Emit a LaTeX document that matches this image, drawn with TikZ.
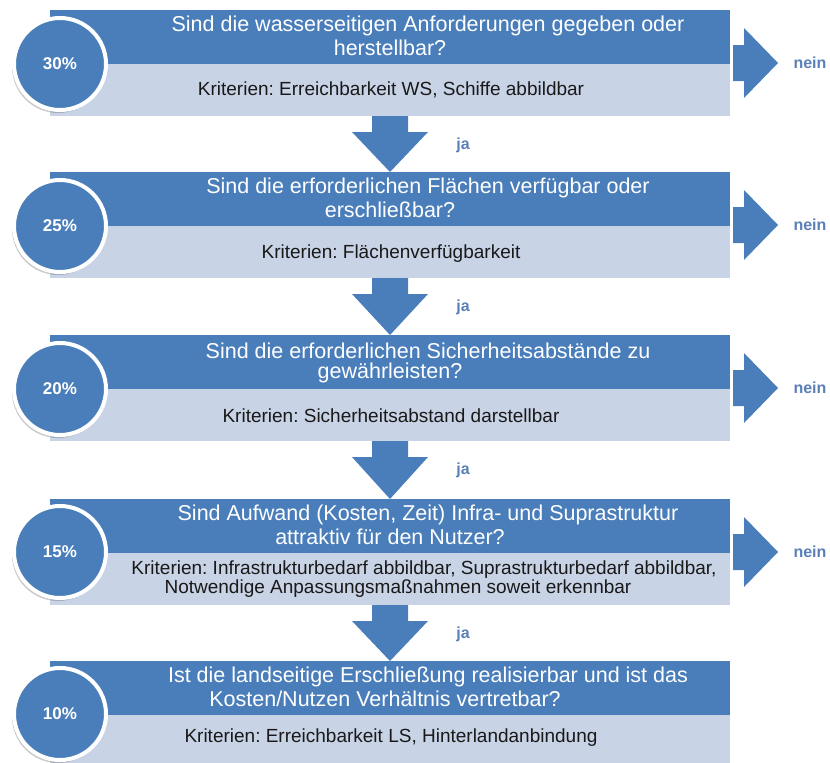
\documentclass[tikz,border=0pt]{standalone}
\usepackage{fontspec}
\setmainfont{Liberation Sans}
\usetikzlibrary{calc,shadows}
\definecolor{dblue}{HTML}{4A7EBB}
\definecolor{lblue}{HTML}{C9D3E6}
\definecolor{lbl}{HTML}{5B80B8}
\frenchspacing
\begin{document}
\begin{tikzpicture}[x=1pt,y=-1pt,
  dark/.style={fill=dblue, minimum width=680pt, minimum height=54pt, anchor=north west, inner sep=0pt, outer sep=0pt},
  light/.style={fill=lblue, minimum width=680pt, minimum height=52pt, anchor=north west, inner sep=0pt, outer sep=0pt},
  title/.style={text=white, font=\fontsize{21.5}{24}\selectfont, inner sep=0pt},
  krit/.style={text=black!90, font=\fontsize{19}{22}\selectfont, inner sep=0pt},
  pct/.style={circle, fill=dblue, draw=white, line width=4pt, minimum size=92pt, text=white,
    font=\bfseries\fontsize{17}{20}\selectfont,
    drop shadow={shadow xshift=-2pt, shadow yshift=-3pt, fill=black!60, opacity=0.35}},
  lab/.style={text=lbl, font=\bfseries\fontsize{16}{18}\selectfont, inner sep=0pt},
  arr/.style={fill=dblue}
]
\useasboundingbox (0,0) rectangle (830,763);

% ---- blocks ----
\node[dark]  (d1) at (50,10) {};
\node[light] (l1) at (50,64) {};
\node[dark]  (d2) at (50,172) {};
\node[light] (l2) at (50,226) {};
\node[dark]  (d3) at (50,335) {};
\node[light] (l3) at (50,389) {};
\node[dark]  (d4) at (50,499) {};
\node[light] (l4) at (50,553) {};
\node[dark]  (d5) at (50,661) {};
\node[light, minimum height=48pt] (l5) at (50,715) {};

% ---- texts ----
\node[title] (t1a) at (428,26) {Sind die wasserseitigen Anforderungen gegeben oder};
\node[title] (t1b) at (390,48) {herstellbar?};
\node[krit]  (k1)  at (391,90) {Kriterien: Erreichbarkeit WS, Schiffe abbildbar};

\node[title] (t2a) at (428,188) {Sind die erforderlichen Flächen verfügbar oder};
\node[title] (t2b) at (390,210) {erschließbar?};
\node[krit]  (k2)  at (391,254) {Kriterien: Flächenverfügbarkeit};

\node[title] (t3a) at (428,351) {Sind die erforderlichen Sicherheitsabstände zu};
\node[title] (t3b) at (390,373) {gewährleisten?};
\node[krit]  (k3)  at (391,416) {Kriterien: Sicherheitsabstand darstellbar};

\node[title] (t4a) at (428,515) {Sind Aufwand (Kosten, Zeit) Infra- und Suprastruktur};
\node[title] (t4b) at (390,537) {attraktiv für den Nutzer?};
\node[krit]  (k4a) at (424,570) {Kriterien: Infrastrukturbedarf abbildbar, Suprastrukturbedarf abbildbar,};
\node[krit]  (k4b) at (398,589) {Notwendige Anpassungsmaßnahmen soweit erkennbar};

\node[title] (t5a) at (428,677) {Ist die landseitige Erschließung realisierbar und ist das};
\node[title] (t5b) at (385,699) {Kosten/Nutzen Verhältnis vertretbar?};
\node[krit]  (k5)  at (391,738) {Kriterien: Erreichbarkeit LS, Hinterlandanbindung};

% ---- circles ----
\node[pct] (c1) at (60,64)  {30\%};
\node[pct] (c2) at (60,226) {25\%};
\node[pct] (c3) at (60,389) {20\%};
\node[pct] (c4) at (60,552) {15\%};
\node[pct] (c5) at (60,714) {10\%};

% ---- right arrows (nein) ----
\foreach \i in {1,2,3,4}{
  \coordinate (r\i) at ($(d\i.south east)+(0,-1)$);
  \fill[arr] ($(r\i)+(3,-18)$) -- ($(r\i)+(14,-18)$) -- ($(r\i)+(14,-35)$) -- ($(r\i)+(48,0)$)
    -- ($(r\i)+(14,35)$) -- ($(r\i)+(14,18)$) -- ($(r\i)+(3,18)$) -- cycle;
  \node[lab] (n\i) at ($(r\i)+(80,0)$) {nein};
}

% ---- down arrows (ja) ----
\foreach \i/\j in {1/2,2/3,3/4,4/5}{
  \fill[arr] ($(l\i.south)+(-18,0)$) -- ($(l\i.south)+(18,0)$) -- ($(l\i.south)+(18,16)$)
    -- ($(l\i.south)+(38,16)$) -- (d\j.north) -- ($(l\i.south)+(-38,16)$)
    -- ($(l\i.south)+(-18,16)$) -- cycle;
  \node[lab] (j\i) at ($(l\i.south)+(73,29)$) {ja};
}
\end{tikzpicture}
\end{document}
